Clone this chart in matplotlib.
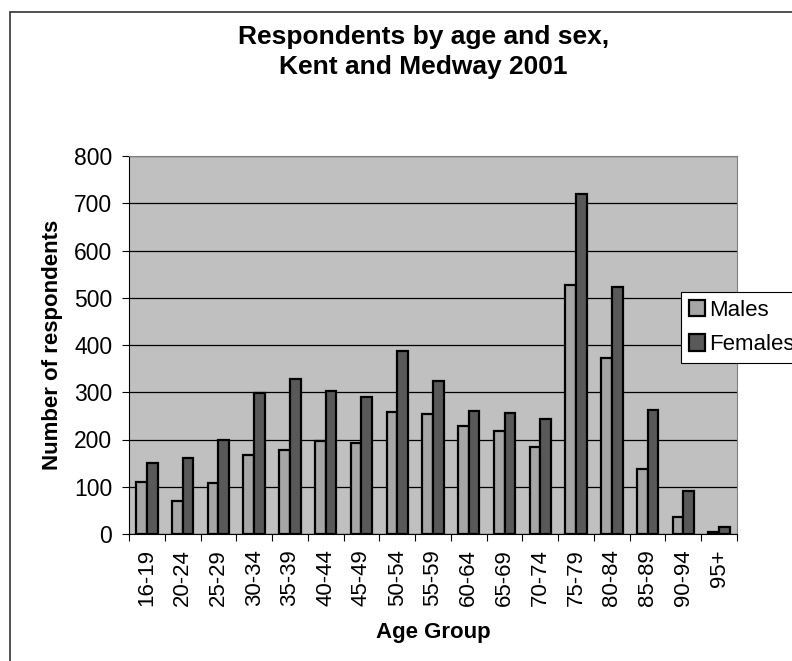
import numpy as np
import matplotlib

matplotlib.use("Agg")
import matplotlib.pyplot as plt
from matplotlib.patches import Rectangle

plt.rcParams["font.family"] = ["Liberation Sans", "DejaVu Sans"]

age_groups = ["16-19", "20-24", "25-29", "30-34", "35-39", "40-44", "45-49",
              "50-54", "55-59", "60-64", "65-69", "70-74", "75-79", "80-84",
              "85-89", "90-94", "95+"]
males = [111, 70, 107, 167, 178, 196, 193, 259, 254, 229, 218, 185, 528,
         372, 138, 37, 5]
females = [150, 160, 199, 298, 329, 302, 289, 388, 324, 260, 257, 243, 720,
           523, 262, 92, 14]

fig = plt.figure(figsize=(7.92, 6.61), dpi=100)
ax = fig.add_axes([129 / 792, 1 - 534 / 661, (737 - 129) / 792, (534 - 156) / 661])
ax.set_facecolor("#C0C0C0")

x = np.arange(len(age_groups))
w = 0.3
ax.bar(x - w / 2, males, w, color="#A6A6A6", edgecolor="black", lw=1.6,
       label="Males", zorder=3)
ax.bar(x + w / 2, females, w, color="#595959", edgecolor="black", lw=1.6,
       label="Females", zorder=3)

ax.set_xlim(-0.5, len(age_groups) - 0.5)
ax.set_ylim(0, 800)
ax.set_yticks(range(0, 801, 100))
ax.yaxis.grid(True, color="black", lw=0.9, zorder=1)
ax.set_axisbelow(True)

# category labels at centres, tick marks at the boundaries
ax.set_xticks(x)
ax.set_xticklabels(age_groups, rotation=90, fontsize=16)
ax.tick_params(axis="x", length=0, pad=11)
ax.set_xticks(np.arange(-0.5, len(age_groups)), minor=True)
ax.tick_params(axis="x", which="minor", length=5, width=0.8, direction="out")
ax.tick_params(axis="y", labelsize=16.5, length=5, width=0.8, pad=7)

for s in ("top", "right"):
    ax.spines[s].set_color("#808080")
for s in ("left", "bottom"):
    ax.spines[s].set_color("black")

ax.set_xlabel("Age Group", fontsize=16, fontweight="bold", labelpad=11)
ax.set_ylabel("Number of respondents", fontsize=16, fontweight="bold", labelpad=8)

fig.text(0.535, 1 - 52 / 661, "Respondents by age and sex,\nKent and Medway 2001",
         ha="center", va="center", fontsize=19, fontweight="bold", linespacing=1.35)

leg = ax.legend(loc="upper left", bbox_to_anchor=(681 / 792, 1 - 292 / 661),
                bbox_transform=fig.transFigure, fontsize=16, frameon=True,
                fancybox=False, edgecolor="black", framealpha=1,
                handlelength=0.75, handleheight=0.75, handletextpad=0.15,
                borderpad=0.35, labelspacing=0.6, borderaxespad=0)
leg.get_frame().set_linewidth(0.8)

# outer chart border (right/bottom fall outside the image)
fig.patches.append(Rectangle((10 / 792, -0.05), 1.1, 1 - 12 / 661 + 0.05,
                             transform=fig.transFigure, fill=False,
                             edgecolor="#333333", lw=1.2))

fig.savefig("out.png", dpi=100)
